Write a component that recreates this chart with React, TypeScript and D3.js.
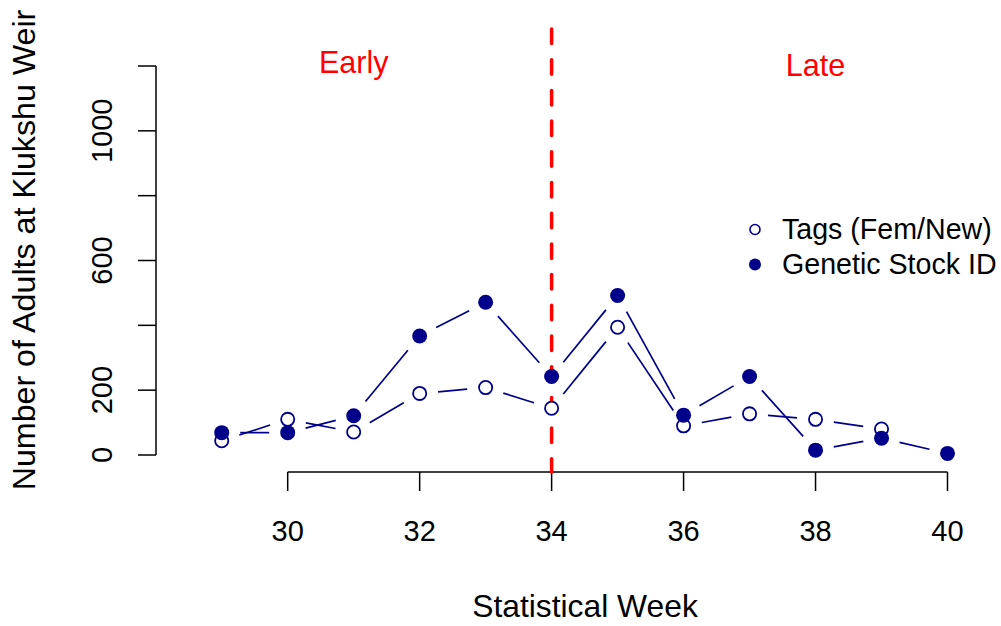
import React from "react";
import * as d3 from "d3";

// Weekly counts of adults at Klukshu Weir
const weeks = [29, 30, 31, 32, 33, 34, 35, 36, 37, 38, 39, 40];
const tagsValues: (number | null)[] = [44, 110, 71, 190, 208, 144, 394, 90, 127, 110, 80, null];
const gsiValues: (number | null)[] = [69, 69, 121, 367, 471, 242, 492, 123, 242, 15, 52, 5];

const xTicks = [30, 32, 34, 36, 38, 40];
const yTicks = [0, 200, 400, 600, 800, 1000, 1200];
const yTickLabels = [0, 200, 600, 1000];
const splitWeek = 34;

const W = 1001;
const H = 626;
const BLUE = "#00008B";
const RED = "#FF0000";
const FONT = "'Liberation Sans', Arial, Helvetica, sans-serif";

const x = d3.scaleLinear().domain([30, 40]).range([287.7, 947.5]);
const y = d3.scaleLinear().domain([0, 1200]).range([455, 66]);

// Line segments between consecutive points, trimmed around each marker (type = "b")
function gappedSegments(vals: (number | null)[], gap: number) {
  const segs: { x1: number; y1: number; x2: number; y2: number }[] = [];
  for (let i = 0; i < weeks.length - 1; i++) {
    const a = vals[i];
    const b = vals[i + 1];
    if (a == null || b == null) continue;
    const ax = x(weeks[i]), ay = y(a), bx = x(weeks[i + 1]), by = y(b);
    const dx = bx - ax, dy = by - ay;
    const len = Math.hypot(dx, dy);
    if (len <= 2 * gap) continue;
    const ux = dx / len, uy = dy / len;
    segs.push({ x1: ax + ux * gap, y1: ay + uy * gap, x2: bx - ux * gap, y2: by - uy * gap });
  }
  return segs;
}

export default function App() {
  const tagSegs = gappedSegments(tagsValues, 18.5);
  const gsiSegs = gappedSegments(gsiValues, 18.5);
  const x0 = x(30), x1 = x(40);
  const axisY = 472;

  return (
    <svg
      width={W}
      height={H}
      viewBox={`0 0 ${W} ${H}`}
      style={{ position: "absolute", left: 0, top: 0, background: "#fff" }}
      fontFamily={FONT}
    >
      <rect x={0} y={0} width={W} height={H} fill="#fff" />

      {/* y axis */}
      <g stroke="#000" strokeWidth={1.5}>
        <line x1={156} x2={156} y1={y(0)} y2={y(1200)} />
        {yTicks.map((t) => (
          <line key={t} x1={138} x2={156} y1={y(t)} y2={y(t)} />
        ))}
      </g>
      {yTickLabels.map((t) => (
        <text
          key={t}
          transform={`translate(112,${y(t)}) rotate(-90)`}
          textAnchor="middle"
          fontSize={29}
          fill="#000"
        >
          {t}
        </text>
      ))}

      {/* x axis */}
      <g stroke="#000" strokeWidth={1.5}>
        <line x1={x0} x2={x1} y1={axisY} y2={axisY} />
        {xTicks.map((t) => (
          <line key={t} x1={x(t)} x2={x(t)} y1={axisY} y2={491} />
        ))}
      </g>
      {xTicks.map((t) => (
        <text key={t} x={x(t)} y={541} textAnchor="middle" fontSize={29} fill="#000">
          {t}
        </text>
      ))}

      {/* axis titles */}
      <text x={585} y={617} textAnchor="middle" fontSize={31.8} fill="#000">
        Statistical Week
      </text>
      <text
        transform={`translate(35,250) rotate(-90)`}
        textAnchor="middle"
        fontSize={32.2}
        fill="#000"
      >
        Number of Adults at Klukshu Weir
      </text>

      {/* early / late split */}
      <line
        x1={x(splitWeek)}
        x2={x(splitWeek)}
        y1={29}
        y2={axisY}
        stroke={RED}
        strokeWidth={3.5}
        strokeDasharray="14.5 16.2"
        strokeLinecap="round"
      />
      <text x={x(31)} y={73} textAnchor="middle" fontSize={30.5} fill={RED}>
        Early
      </text>
      <text x={x(38)} y={76} textAnchor="middle" fontSize={30.5} fill={RED}>
        Late
      </text>

      {/* series lines */}
      <g stroke={BLUE} strokeWidth={1.7}>
        {tagSegs.map((s, i) => (
          <line key={`t${i}`} {...s} />
        ))}
        {gsiSegs.map((s, i) => (
          <line key={`g${i}`} {...s} />
        ))}
      </g>

      {/* tags: open circles */}
      {tagsValues.map((v, i) =>
        v == null ? null : (
          <circle key={`to${i}`} cx={x(weeks[i])} cy={y(v)} r={6.6} fill="#fff" stroke={BLUE} strokeWidth={1.8} />
        )
      )}
      {/* genetic stock ID: filled circles */}
      {gsiValues.map((v, i) =>
        v == null ? null : <circle key={`gf${i}`} cx={x(weeks[i])} cy={y(v)} r={7.5} fill={BLUE} />
      )}

      {/* legend */}
      <circle cx={755} cy={229.5} r={5} fill="#fff" stroke={BLUE} strokeWidth={1.6} />
      <circle cx={755} cy={264.5} r={6} fill={BLUE} />
      <text x={782} y={238.5} fontSize={28.6} fill="#000">
        Tags (Fem/New)
      </text>
      <text x={782} y={273.5} fontSize={28.6} fill="#000">
        Genetic Stock ID
      </text>
    </svg>
  );
}
